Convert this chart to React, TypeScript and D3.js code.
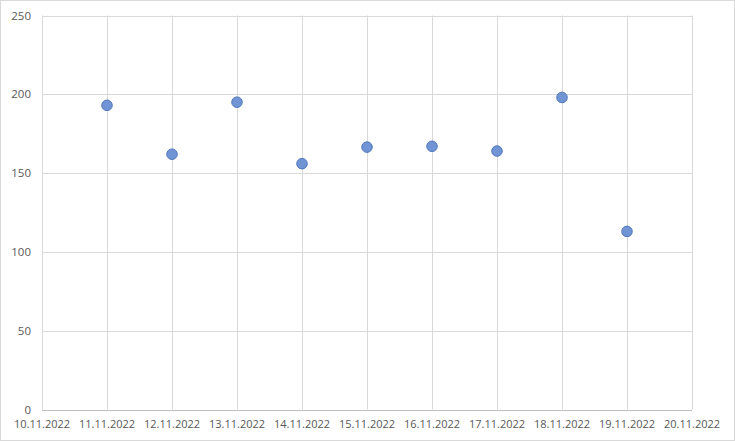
import React from "react";
import * as d3 from "d3";

const dates = ["10.11.2022","11.11.2022","12.11.2022","13.11.2022","14.11.2022","15.11.2022","16.11.2022","17.11.2022","18.11.2022","19.11.2022","20.11.2022"];
const pointDates = ["11.11.2022","12.11.2022","13.11.2022","14.11.2022","15.11.2022","16.11.2022","17.11.2022","18.11.2022","19.11.2022"];
const values = [193, 162, 195, 156, 166.5, 167, 164, 198, 113];
const yTicks = [0, 50, 100, 150, 200, 250];

export default function App() {
  const W = 735, H = 441;
  const m = { left: 42, right: 692, top: 15.5, bottom: 409.5 };
  const x = d3.scalePoint<string>().domain(dates).range([m.left, m.right]);
  const y = d3.scaleLinear().domain([0, 250]).range([m.bottom, m.top]);
  const font = "'Open Sans', 'Liberation Sans', sans-serif";
  return (
    <svg width={W} height={H} style={{ position: "absolute", left: 0, top: 0 }} fontFamily={font}>
      <rect x={0.5} y={0.5} width={W - 1} height={H - 1} fill="#fff" stroke="#d9d9d9" />
      {yTicks.map((t) => (
        <g key={t}>
          <line x1={m.left} x2={m.right} y1={Math.round(y(t)) + 0.5} y2={Math.round(y(t)) + 0.5} stroke={t === 0 ? "#bfbfbf" : "#d9d9d9"} />
          <text x={31} y={y(t)} dy="0.35em" textAnchor="end" fontSize={11.5} fill="#595959">{t}</text>
        </g>
      ))}
      {dates.map((d) => (
        <g key={d}>
          <line x1={Math.round(x(d)!) + 0.5} x2={Math.round(x(d)!) + 0.5} y1={m.top} y2={m.bottom} stroke="#d9d9d9" />
          <text x={x(d)!} y={428} textAnchor="middle" fontSize={11} fill="#595959">{d}</text>
        </g>
      ))}
      {pointDates.map((d, i) => (
        <circle key={d} cx={x(d)!} cy={y(values[i])} r={5.3} fill="#7094d4" stroke="#4a70b8" strokeWidth={0.9} />
      ))}
    </svg>
  );
}
